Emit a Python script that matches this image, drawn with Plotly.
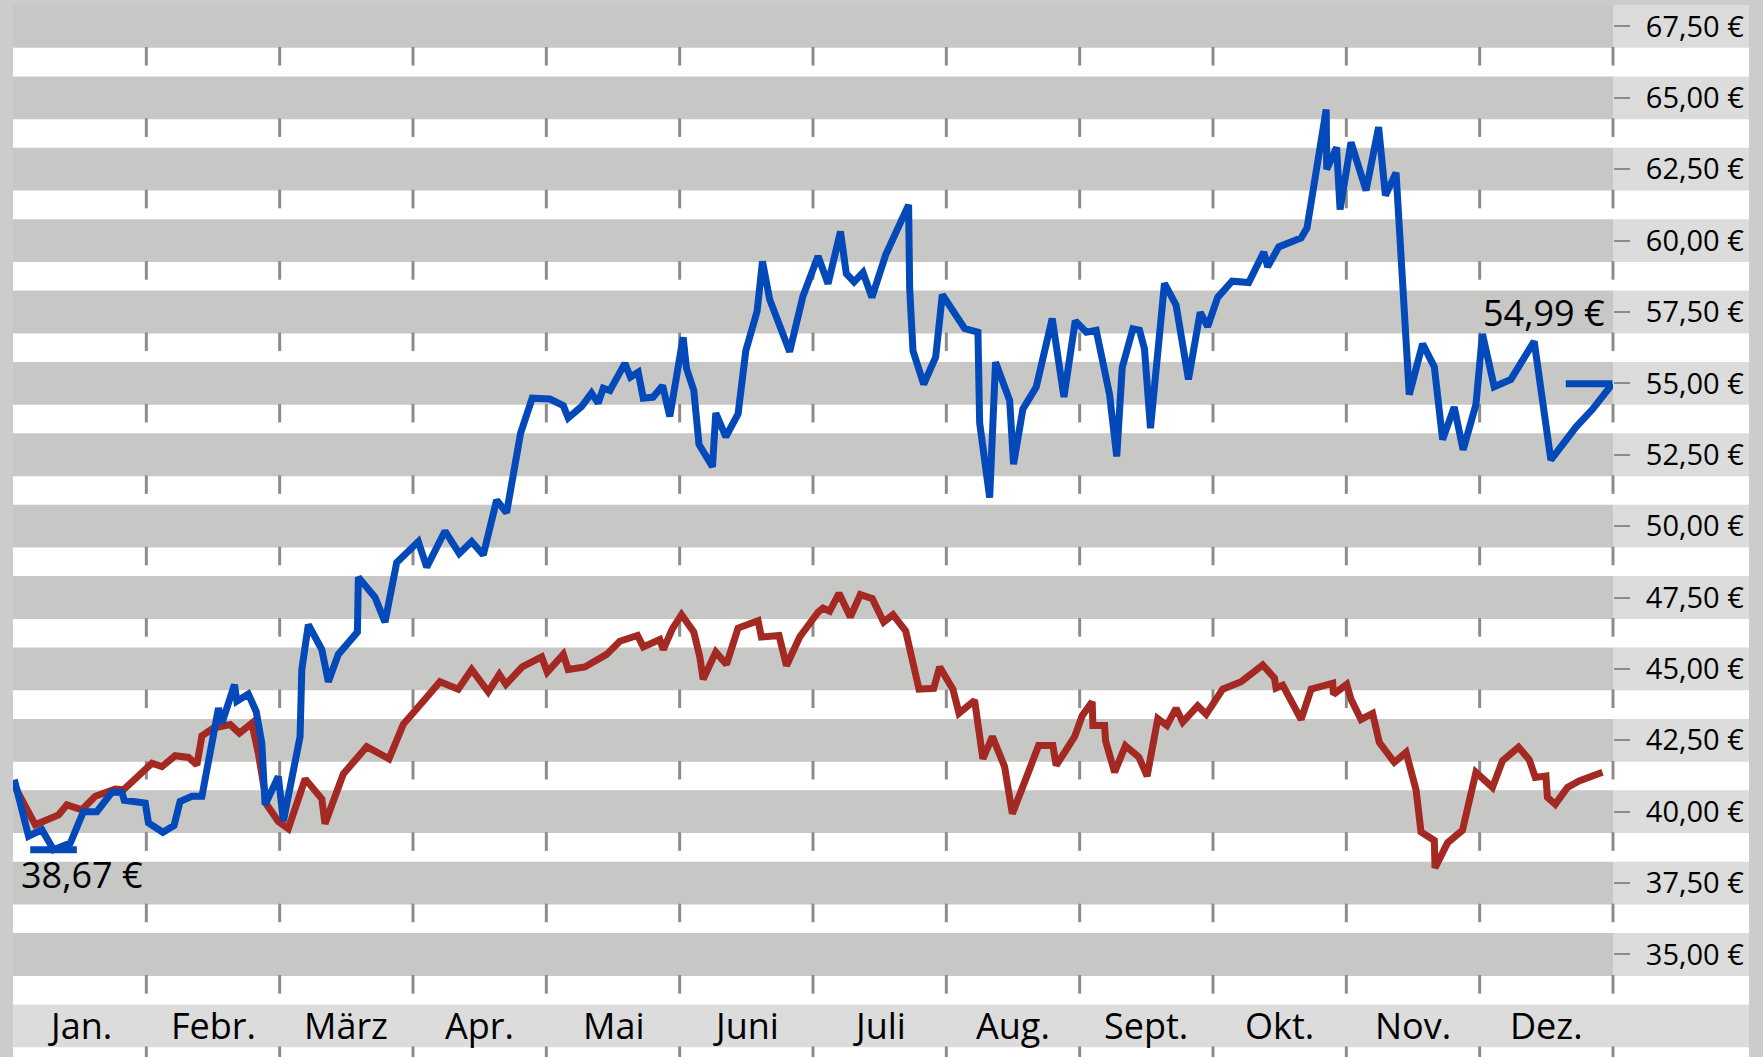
import plotly.graph_objects as go
import numpy as np

# ---------------- data ----------------
months = ["Jan.", "Febr.", "März", "Apr.", "Mai", "Juni", "Juli", "Aug.", "Sept.", "Okt.", "Nov.", "Dez."]

# x positions are expressed in months since the start of the year (0 = 1 Jan, 12 = 31 Dec)
blue_x = [0.010,0.117,0.217,0.304,0.430,0.528,0.629,0.741,0.817,0.834,
          0.992,1.016,1.124,1.208,1.253,1.341,1.417,1.541,1.567,1.661,
          1.679,1.765,1.824,1.866,1.891,1.990,2.028,2.153,2.166,2.215,
          2.316,2.365,2.440,2.583,2.590,2.715,2.790,2.878,3.040,3.103,
          3.240,3.347,3.440,3.527,3.627,3.702,3.807,3.894,4.027,4.127,
          4.164,4.264,4.339,4.389,4.427,4.477,4.589,4.631,4.689,4.727,
          4.801,4.872,4.926,5.026,5.051,5.106,5.145,5.246,5.271,5.346,
          5.438,5.496,5.581,5.621,5.675,5.825,5.925,6.038,6.113,6.206,
          6.250,6.308,6.375,6.442,6.545,6.717,6.725,6.750,6.830,6.920,
          6.970,7.137,7.237,7.250,7.325,7.369,7.475,7.504,7.574,7.674,
          7.794,7.882,7.967,8.050,8.124,8.224,8.278,8.319,8.399,8.449,
          8.486,8.531,8.636,8.723,8.816,8.904,8.960,9.035,9.143,9.268,
          9.381,9.410,9.493,9.661,9.705,9.849,9.853,9.927,9.953,10.035,
          10.148,10.242,10.293,10.373,10.472,10.572,10.660,10.722,10.809,10.876,
          10.972,11.021,11.109,11.234,11.409,11.459,11.534,11.722,11.846,11.996]
blue_y = [41.12,39.14,39.37,38.67,38.90,40.00,40.00,40.68,40.68,40.40,
          40.30,39.61,39.28,39.52,40.36,40.54,40.54,43.63,43.10,44.45,
          43.87,44.12,43.51,42.40,40.24,41.23,39.67,42.63,44.98,46.55,
          45.68,44.55,45.51,46.29,48.21,47.51,46.64,48.73,49.46,48.56,
          49.83,49.04,49.46,48.99,50.91,50.47,53.26,54.48,54.45,54.22,
          53.79,54.19,54.66,54.31,54.83,54.75,55.70,55.22,55.39,54.48,
          54.52,54.92,53.84,56.61,55.53,54.75,52.86,52.08,53.96,53.13,
          53.93,56.14,57.53,59.27,57.94,56.11,58.06,59.45,58.49,60.32,
          58.84,58.55,58.88,58.01,59.50,61.25,58.32,56.14,54.97,55.92,
          58.11,56.92,56.79,53.61,51.00,55.74,54.40,52.17,54.10,54.87,
          57.27,54.52,57.19,56.79,56.86,54.62,52.44,55.55,56.91,56.86,
          56.21,53.43,58.50,57.74,55.14,57.49,56.99,58.01,58.58,58.53,
          59.60,59.08,59.78,60.09,60.44,64.59,62.50,63.26,61.09,63.44,
          61.76,63.97,61.58,62.38,54.61,56.38,55.58,53.03,54.17,52.67,
          54.26,56.73,54.88,55.14,56.47,54.70,52.32,53.47,54.09,54.99]

red_x = [0.000,0.167,0.342,0.404,0.517,0.617,0.767,0.829,1.004,1.042,
         1.117,1.216,1.316,1.379,1.417,1.503,1.629,1.698,1.791,1.840,
         1.904,1.990,2.065,2.191,2.316,2.340,2.477,2.653,2.820,2.927,
         3.090,3.202,3.339,3.440,3.564,3.647,3.697,3.819,3.965,4.007,
         4.127,4.164,4.289,4.452,4.551,4.684,4.727,4.851,4.877,4.946,
         5.014,5.106,5.151,5.176,5.271,5.351,5.438,5.588,5.613,5.745,
         5.801,5.900,6.038,6.075,6.125,6.195,6.280,6.355,6.445,6.530,
         6.600,6.695,6.795,6.905,6.950,7.049,7.095,7.212,7.274,7.345,
         7.437,7.495,7.625,7.692,7.799,7.824,7.962,8.019,8.094,8.099,
         8.187,8.194,8.262,8.343,8.444,8.506,8.586,8.654,8.723,8.773,
         8.885,8.949,9.073,9.211,9.373,9.461,9.473,9.523,9.661,9.736,
         9.898,9.903,10.003,10.035,10.110,10.197,10.247,10.360,10.448,10.523,
         10.560,10.660,10.665,10.759,10.871,10.972,11.096,11.171,11.292,11.372,
         11.417,11.497,11.508,11.567,11.658,11.746,11.921]
red_y = [41.00,39.54,39.89,40.24,40.07,40.54,40.79,40.77,41.53,41.70,
         41.58,41.96,41.90,41.64,42.66,42.93,43.05,42.75,43.10,42.05,
         40.24,39.66,39.41,41.15,40.45,39.58,41.32,42.28,41.85,43.06,
         43.94,44.55,44.29,44.98,44.20,44.81,44.46,45.07,45.42,44.89,
         45.51,44.98,45.07,45.51,45.97,46.17,45.77,46.03,45.68,46.41,
         46.90,46.29,45.42,44.64,45.59,45.16,46.43,46.69,46.12,46.17,
         45.11,46.12,46.99,47.13,47.02,47.65,46.82,47.60,47.46,46.64,
         46.90,46.33,44.29,44.32,45.07,44.29,43.45,43.90,41.85,42.63,
         41.58,39.93,41.50,42.32,42.32,41.62,42.63,43.36,43.85,43.02,
         43.02,42.49,41.38,42.31,41.91,41.25,43.26,43.02,43.62,43.14,
         43.71,43.41,44.29,44.55,45.14,44.68,44.33,44.43,43.23,44.29,
         44.50,44.11,44.46,43.94,43.23,43.44,42.43,41.73,42.08,40.76,
         39.29,38.99,38.03,38.91,39.35,41.38,40.85,41.78,42.26,41.82,
         41.20,41.25,40.50,40.26,40.85,41.08,41.38]

ytick_vals = [35.0, 37.5, 40.0, 42.5, 45.0, 47.5, 50.0, 52.5, 55.0, 57.5, 60.0, 62.5, 65.0, 67.5]
ytick_text = [("%.2f" % v).replace(".", ",") + " €" for v in ytick_vals]
month_band_value = 32.5

# ---------------- style ----------------
W, H = 1763, 1057
ML, MR, MT, MB = 13, 150, 5, 0
X_MIN, X_MAX = 0, 12
Y_BOT, Y_TOP = 31.41, 68.25
BAND_HALF = 0.75
TICK_LEN = 0.62
X_END = (1749 - ML) / (W - ML - MR)
BLUE = "#0349b9"
RED = "#a32922"
BAND = "#c7c7c5"
LIGHT = "#dcdcdc"
BORDER = "#cccccc"
TICKC = "#8c8c8c"
FONT = "Open Sans"
LW = 7

def xp(v):
    return (v - X_MIN) / (X_MAX - X_MIN)

shapes = []
# white background of the label column
shapes.append(dict(type="rect", xref="paper", yref="y", x0=1, x1=X_END, y0=Y_BOT, y1=Y_TOP,
                   fillcolor="white", line=dict(width=0), layer="below"))
for v in ytick_vals:
    shapes.append(dict(type="rect", xref="paper", yref="y", x0=0, x1=1,
                       y0=v - BAND_HALF, y1=v + BAND_HALF, fillcolor=BAND,
                       line=dict(width=0), layer="below"))
    shapes.append(dict(type="rect", xref="paper", yref="y", x0=1, x1=X_END,
                       y0=v - BAND_HALF, y1=v + BAND_HALF, fillcolor=LIGHT,
                       line=dict(width=0), layer="below"))
shapes.append(dict(type="rect", xref="paper", yref="y", x0=0, x1=X_END,
                   y0=month_band_value - BAND_HALF, y1=month_band_value + BAND_HALF,
                   fillcolor=LIGHT, line=dict(width=0), layer="below"))
# month boundary tick marks, repeated below each band
for b in range(1, len(months) + 1):
    for v in ytick_vals + [month_band_value]:
        shapes.append(dict(type="line", xref="paper", yref="y", x0=xp(b), x1=xp(b),
                           y0=v - BAND_HALF + 0.03, y1=v - BAND_HALF - TICK_LEN,
                           line=dict(color=TICKC, width=3), layer="below"))

fig = go.Figure()
fig.add_trace(go.Scatter(x=red_x, y=red_y, mode="lines",
                         line=dict(color=RED, width=LW), hoverinfo="skip"))
fig.add_trace(go.Scatter(x=blue_x, y=blue_y, mode="lines",
                         line=dict(color=BLUE, width=LW), hoverinfo="skip"))

# low / last value markers
i_min = int(np.argmin(blue_y))
fig.add_trace(go.Scatter(x=[blue_x[i_min] - 0.175, blue_x[i_min] + 0.175],
                         y=[blue_y[i_min], blue_y[i_min]], mode="lines",
                         line=dict(color=BLUE, width=LW), hoverinfo="skip"))
fig.add_trace(go.Scatter(x=[blue_x[-1] - 0.35, blue_x[-1]],
                         y=[blue_y[-1], blue_y[-1]], mode="lines",
                         line=dict(color=BLUE, width=LW), hoverinfo="skip"))

def euro(v):
    return ("%.2f" % v).replace(".", ",") + " €"

annotations = []
for i, m in enumerate(months):
    annotations.append(dict(x=i + 0.5, y=month_band_value, xref="x", yref="y", text=m,
                            showarrow=False, xanchor="center", yanchor="middle",
                            font=dict(family=FONT, size=36, color="black")))
annotations.append(dict(x=blue_x[-1], y=blue_y[-1], xref="x", yref="y", text=euro(blue_y[-1]),
                        showarrow=False, xanchor="right", yanchor="middle", xshift=-5, yshift=71,
                        font=dict(family=FONT, size=36, color="black")))
annotations.append(dict(x=X_MIN, y=blue_y[i_min], xref="x", yref="y", text=euro(blue_y[i_min]),
                        showarrow=False, xanchor="left", yanchor="middle", xshift=6, yshift=-25,
                        font=dict(family=FONT, size=36, color="black")))

fig.update_layout(
    width=W, height=H,
    margin=dict(l=ML, r=MR, t=MT, b=MB, pad=0),
    paper_bgcolor=BORDER, plot_bgcolor="white",
    showlegend=False,
    shapes=shapes, annotations=annotations,
    xaxis=dict(range=[X_MIN, X_MAX], showgrid=False, zeroline=False, showticklabels=False,
               ticks="", showline=False, fixedrange=True),
    yaxis=dict(range=[Y_BOT, Y_TOP], side="right", tickvals=ytick_vals, ticktext=ytick_text,
               ticks="outside", ticklen=16, tickwidth=2, tickcolor=TICKC,
               showgrid=False, zeroline=False, showline=False, ticklabelstandoff=10,
               tickfont=dict(family=FONT, size=29, color="black"), fixedrange=True),
)

fig.write_html("out.html", config={"displayModeBar": False},
               post_script="document.body.style.margin='0';document.body.style.overflow='hidden';")
